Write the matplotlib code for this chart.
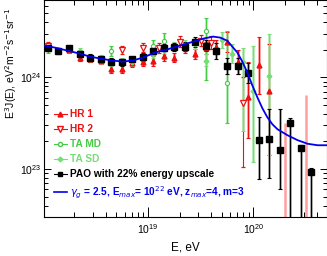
import numpy as np
import matplotlib
matplotlib.use("Agg")
import matplotlib.pyplot as plt
from matplotlib.lines import Line2D
from matplotlib.ticker import LogLocator, NullFormatter

plt.rcParams['font.family'] = ['Liberation Sans', 'DejaVu Sans']

# all fluxes E^3 J(E) in units of 1e24 eV^2 m^-2 s^-1 sr^-1, energies as log10(E/eV)

# PAO with 22% energy upscale
pao_lgE = [18.05, 18.15, 18.25, 18.35, 18.45, 18.55, 18.65, 18.75, 18.85, 18.95,
           19.05, 19.15, 19.25, 19.35, 19.45, 19.55, 19.65, 19.75, 19.85, 19.95,
           20.05, 20.15, 20.25, 20.35, 20.45, 20.55]
pao_val = [2.07, 1.96, 2.07, 1.82, 1.65, 1.57, 1.49, 1.46, 1.57, 1.69,
           1.92, 2.12, 2.17, 2.17, 2.46, 2.23, 1.96, 1.32, 1.35, 1.13,
           0.207, 0.212, 0.161, 0.316, 0.169, 0.093]
pao_lo = [1.92, 1.82, 1.92, 1.69, 1.53, 1.46, 1.38, 1.35, 1.46, 1.53,
          1.74, 1.92, 1.96, 1.92, 2.17, 1.92, 1.60, 1.08, 1.10, 0.88,
          0.078, 0.080, 0.061, 0.02, 0.02, 0.02]
pao_hi = [2.23, 2.11, 2.23, 1.96, 1.78, 1.69, 1.61, 1.57, 1.69, 1.87,
          2.12, 2.34, 2.40, 2.46, 2.79, 2.59, 2.40, 1.61, 1.65, 1.45,
          0.367, 0.449, 0.449, 0.358, 0.183, 0.103]

# HiRes 1
hr1_lgE = [18.15, 18.25, 18.35, 18.45, 18.55, 18.65, 18.75, 18.85, 18.95, 19.05,
           19.15, 19.25, 19.35, 19.45, 19.55, 19.65, 19.75, 19.85, 19.95, 20.05, 20.15]
hr1_val = [1.97, 1.97, 1.65, 1.57, 1.53, 1.25, 1.25, 1.42, 1.46, 1.53,
           1.73, 1.65, 2.07, 1.78, 2.07, 2.17, 2.46, 1.46, 0.606, 1.38, 0.705]
hr1_lo = [1.83, 1.83, 1.53, 1.46, 1.42, 1.13, 1.13, 1.29, 1.32, 1.35,
          1.53, 1.46, 1.83, 1.57, 1.78, 1.82, 1.91, 1.08, 0.217, 0.654, 0.142]
hr1_hi = [2.12, 2.12, 1.78, 1.69, 1.65, 1.38, 1.38, 1.57, 1.61, 1.73,
          1.96, 1.87, 2.35, 2.02, 2.41, 2.58, 3.16, 1.97, 1.46, 2.79, 2.34]
# HiRes 1 bins without a point on scale
hr1_lim_lgE = [20.30, 20.50]
hr1_lim_lo = [0.02, 0.02]
hr1_lim_hi = [0.316, 0.637]

# HiRes 2
hr2_lgE = [18.05, 18.75, 18.95, 19.10, 19.30, 19.50, 19.60, 19.90]
hr2_val = [2.23, 1.97, 2.12, 2.07, 2.46, 2.52, 2.40, 0.52]
hr2_lo = [2.02, 1.78, 1.90, 1.83, 2.16, 2.20, 2.06, 0.105]
hr2_hi = [2.46, 2.18, 2.37, 2.35, 2.80, 2.88, 2.80, 1.00]

# TA MD
tamd_lgE = [18.05, 18.65, 19.05, 19.15, 19.55, 19.75]
tamd_val = [2.02, 1.92, 2.23, 2.52, 3.24, 0.88]
tamd_lo = [1.83, 1.70, 1.92, 2.06, 0.93, 0.316]
tamd_hi = [2.23, 2.18, 2.59, 3.08, 4.49, 3.24]

# TA SD
tasd_lgE = [18.25, 18.35, 18.45, 18.55, 18.65, 18.75, 18.85, 18.95, 19.05, 19.15,
            19.25, 19.35, 19.45, 19.55, 19.70, 19.80, 19.90, 20.00, 20.15]
tasd_val = [2.02, 1.92, 1.65, 1.57, 1.49, 1.46, 1.49, 1.65, 1.82, 2.02,
            2.17, 2.28, 2.34, 1.53, 2.59, 1.82, 1.49, 0.72, 1.03]
tasd_lo = [1.83, 1.74, 1.49, 1.42, 1.35, 1.32, 1.35, 1.49, 1.61, 1.78,
           1.92, 2.01, 2.06, 1.32, 2.12, 1.42, 0.26, 0.119, 0.142]
tasd_hi = [2.23, 2.12, 1.82, 1.74, 1.65, 1.61, 1.65, 1.82, 2.06, 2.28,
           2.46, 2.59, 2.66, 1.78, 3.16, 2.34, 2.07, 2.23, 3.00]

# model curve: gamma_g = 2.5, Emax = 1e22 eV, zmax = 4, m = 3
mod_lgE = [18.01, 18.114, 18.229, 18.352, 18.448, 18.543, 18.657, 18.762, 18.857,
           18.952, 19.067, 19.181, 19.305, 19.40, 19.495, 19.543, 19.619, 19.686,
           19.752, 19.80, 19.848, 19.895, 19.943, 19.99, 20.038, 20.086, 20.133,
           20.181, 20.229, 20.324, 20.419, 20.514, 20.61, 20.705]
mod_val = [2.23, 2.12, 1.97, 1.82, 1.69, 1.61, 1.53, 1.49, 1.53,
           1.65, 1.87, 2.02, 2.23, 2.40, 2.59, 2.68, 2.79, 2.72,
           2.52, 2.17, 1.87, 1.49, 1.13, 0.819, 0.607, 0.460, 0.367,
           0.308, 0.272, 0.234, 0.207, 0.189, 0.182, 0.182]

RED = '#ee1111'
PINK = '#ff9f9f'
GREEN = '#44cc44'
LGREEN = '#77dd77'
PALEG = '#b5ecb5'
BLUE = '#0000ee'


def to_arrays(lgE, val, lo, hi):
    e = 10 ** np.array(lgE)
    v = np.array(val) * 1e24
    lo = np.array(lo) * 1e24
    hi = np.array(hi) * 1e24
    return e, v, np.vstack([v - lo, hi - v])


fig = plt.figure(figsize=(3.27, 2.56), dpi=100)
ax = fig.add_axes([44 / 327, 1 - 217 / 256, 283 / 327, 217 / 256])

ax.plot(10 ** np.array(mod_lgE), np.array(mod_val) * 1e24, color=BLUE, lw=1.3, zorder=5)

# HR 1
e, v, err = to_arrays(hr1_lgE, hr1_val, hr1_lo, hr1_hi)
ax.errorbar(e, v, yerr=err, fmt='none', ecolor=PINK, elinewidth=2, zorder=2)
ax.errorbar(e, v, yerr=err, fmt='^', color=RED, ms=3.5, elinewidth=0.8,
            capsize=1.5, capthick=0.8, zorder=4)
lim_e = 10 ** np.array(hr1_lim_lgE)
ax.vlines(lim_e, np.array(hr1_lim_lo) * 1e24, np.array(hr1_lim_hi) * 1e24,
          color=PINK, lw=1.8, zorder=2)

# HR 2
e, v, err = to_arrays(hr2_lgE, hr2_val, hr2_lo, hr2_hi)
ax.errorbar(e, v, yerr=err, fmt='v', color=RED, mfc='white', mew=0.9, ms=4,
            elinewidth=0.8, capsize=1.5, capthick=0.8, zorder=4)

# TA MD
e, v, err = to_arrays(tamd_lgE, tamd_val, tamd_lo, tamd_hi)
ax.errorbar(e, v, yerr=err, fmt='none', ecolor=PALEG, elinewidth=2, zorder=2)
ax.errorbar(e, v, yerr=err, fmt='o', color=GREEN, mfc='white', mew=0.8, ms=3,
            elinewidth=0.8, capsize=1.2, capthick=0.8, zorder=4)

# TA SD
e, v, err = to_arrays(tasd_lgE, tasd_val, tasd_lo, tasd_hi)
ax.errorbar(e, v, yerr=err, fmt='none', ecolor=PALEG, elinewidth=2, zorder=2)
ax.errorbar(e, v, yerr=err, fmt='P', color=LGREEN, ms=3, elinewidth=0.8,
            capsize=1.2, capthick=0.8, zorder=4)

# PAO
e, v, err = to_arrays(pao_lgE, pao_val, pao_lo, pao_hi)
ax.errorbar(e, v, yerr=err, fmt='none', ecolor='#aaaaaa', elinewidth=2, zorder=3)
ax.errorbar(e, v, yerr=err, fmt='s', color='black', ms=3.8, elinewidth=0.8,
            capsize=1.2, capthick=0.8, zorder=4)

ax.set_xscale('log')
ax.set_yscale('log')
ax.set_xlim(1.03e18, 5e20)
ax.set_ylim(3e22, 7e24)

ax.xaxis.set_minor_locator(LogLocator(base=10, subs=np.arange(2, 10)))
ax.yaxis.set_minor_locator(LogLocator(base=10, subs=np.arange(2, 10)))
ax.xaxis.set_minor_formatter(NullFormatter())
ax.yaxis.set_minor_formatter(NullFormatter())
ax.tick_params(which='both', direction='in', top=True, right=True, labelsize=7.5, width=0.7)
ax.tick_params(axis='x', which='major', length=7.2, pad=4)
ax.tick_params(axis='x', which='minor', length=3.6)
ax.tick_params(axis='y', which='major', length=5, pad=2)
ax.tick_params(axis='y', which='minor', length=3)
for s in ax.spines.values():
    s.set_linewidth(0.8)

ax.set_xlabel('E, eV', fontsize=8.5)
ax.xaxis.set_label_coords(0.5, -0.115)
ax.set_ylabel(r'E$^{3}$J(E), eV$^{2}$m$^{-2}$s$^{-1}$sr$^{-1}$', fontsize=7.5, loc='top')
ax.yaxis.set_label_coords(-0.088, 0.965)

handles = [
    Line2D([], [], color=RED, marker='^', ms=3.5, lw=0.8),
    Line2D([], [], color=RED, marker='v', mfc='white', ms=4, lw=0.8),
    Line2D([], [], color=GREEN, marker='o', mfc='white', ms=3, lw=0.8),
    Line2D([], [], color=LGREEN, marker='P', ms=3, lw=0.8),
    Line2D([], [], color='black', marker='s', ms=3.5, lw=0.8),
    Line2D([], [], color=BLUE, lw=1.2),
]
labels = ['HR 1', 'HR 2', 'TA MD', 'TA SD', 'PAO with 22% energy upscale',
          r'$\gamma_{g}$ = 2.5, E$_{max}$= 10$^{22}$ eV, z$_{max}$=4, m=3']
colors = [RED, RED, GREEN, LGREEN, 'black', BLUE]
leg = ax.legend(handles, labels, loc='upper left', bbox_to_anchor=(0.035, 0.497),
                frameon=False, fontsize=7.3, handlelength=1.3, handletextpad=0.3,
                labelspacing=0.5, borderaxespad=0, borderpad=0)
for t, c in zip(leg.get_texts(), colors):
    t.set_color(c)
    t.set_fontweight('bold')

fig.savefig('out.png', dpi=100)
